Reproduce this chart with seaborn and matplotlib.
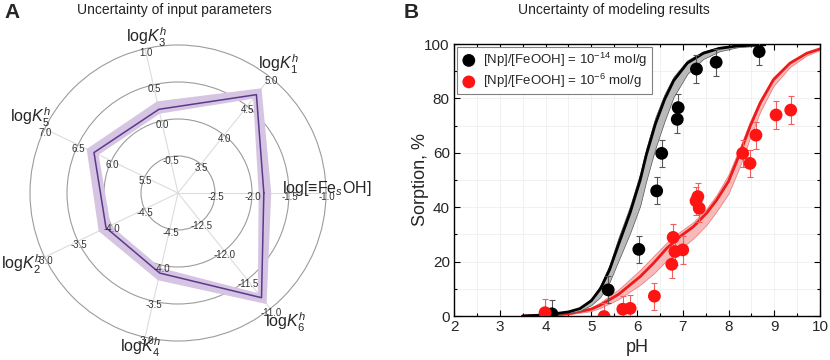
import numpy as np
import matplotlib
matplotlib.use("Agg")
import matplotlib.pyplot as plt
from matplotlib.path import Path
from matplotlib.patches import PathPatch
from matplotlib.ticker import MultipleLocator
import seaborn as sns

# ---------------- Panel A data (radar) ----------------
radar_labels = [r"log[≡Fe$_s$OH]", r"log$K_1^h$", r"log$K_3^h$", r"log$K_5^h$",
                r"log$K_2^h$", r"log$K_4^h$", r"log$K_6^h$"]
radar_ticks = [
    ["-2.5", "-2.0", "-1.5", "-1.0"],
    ["3.5", "4.0", "4.5", "5.0"],
    ["-0.5", "0.0", "0.5", "1.0"],
    ["5.5", "6.0", "6.5", "7.0"],
    ["-4.5", "-4.0", "-3.5", "-3.0"],
    ["-4.5", "-4.0", "-3.5", "-3.0"],
    ["-12.5", "-12.0", "-11.5", "-11.0"],
]
radar_best = [-1.84, 4.70, 0.16, 6.26, -3.92, -3.89, -11.19]
radar_low = [-1.91, 4.63, 0.10, 6.19, -3.99, -3.96, -11.27]
radar_high = [-1.74, 4.81, 0.27, 6.37, -3.81, -3.79, -11.08]

# ---------------- Panel B data ----------------
black_ph = [4.14, 5.37, 6.04, 6.43, 6.54, 6.88, 6.90, 7.30, 7.73, 8.67]
black_val = [0.8, 9.6, 24.5, 46.0, 59.8, 72.3, 76.6, 90.8, 93.3, 97.2]
black_err = [5, 5, 5, 5, 5, 5, 5, 5, 5, 5]

red_ph = [3.99, 5.28, 5.69, 5.85, 6.38, 6.76, 6.79, 6.83, 7.00, 7.29, 7.33, 7.36,
          8.31, 8.47, 8.60, 9.04, 9.36]
red_val = [1.2, -0.2, 2.5, 2.8, 7.3, 19.0, 28.9, 23.7, 24.3, 42.3, 43.9, 39.6,
           59.8, 56.1, 66.5, 73.9, 75.7]
red_err = [5] * 17

black_curve_ph = [3.5, 4.0, 4.5, 4.75, 5.0, 5.2, 5.4, 5.6, 5.85, 6.07, 6.2, 6.4,
                  6.6, 6.8, 7.1, 7.45, 7.8, 8.2, 8.8]
black_curve = [0, 0.4, 1.5, 2.7, 5.6, 10.0, 17.0, 26.5, 38, 50, 59, 70.5, 79.5, 86.5,
               93, 96.6, 98.4, 99.3, 99.8]
black_curve_low = [0, 0.3, 1.1, 1.9, 4.0, 7.0, 12.5, 20.5, 30.5, 40.5, 49.5, 61.5, 71.5, 80.5,
                   89, 94.5, 97.3, 98.8, 99.5]
black_curve_high = [0, 0.5, 1.8, 3.1, 6.4, 11.2, 18.8, 29, 40.5, 52.5, 61.5, 73, 81.5,
                    88, 94, 97.3, 98.9, 99.6, 99.9]

red_curve_ph = [3.5, 4.0, 4.5, 5.0, 5.2, 5.6, 6.07, 6.36, 6.65, 6.94, 7.23, 7.52,
                7.74, 8.0, 8.25, 8.47, 8.69, 8.98, 9.34, 9.71, 10.0]
red_curve = [0, 0.3, 0.8, 2.5, 4, 8, 14.5, 19.4, 24.9, 29.2, 32.8, 37.8, 42.6,
             49.5, 59.8, 69.6, 78.2, 86.8, 92.9, 96.6, 98.2]
red_curve_low = [0, 0.2, 0.6, 1.8, 3.0, 6.2, 11.5, 15.5, 20.5, 24.5, 28.5, 33.5,
                 38.5, 45, 55, 65.5, 75, 84.5, 91.5, 95.8, 97.8]
red_curve_high = [0, 0.4, 1.0, 3.2, 5.0, 9.8, 17, 22, 27, 31, 34.5, 39.5, 44.5,
                  52, 62, 71.5, 79.5, 87.8, 93.5, 97, 98.5]

legend_labels = [r"[Np]/[FeOOH] = 10$^{-14}$ mol/g", r"[Np]/[FeOOH] = 10$^{-6}$ mol/g"]

# ---------------- Style ----------------
sns.set_style("ticks")
plt.rcParams["font.family"] = ["Liberation Sans", "DejaVu Sans"]
plt.rcParams["mathtext.fontset"] = "custom"
plt.rcParams["mathtext.rm"] = "Liberation Sans"
plt.rcParams["mathtext.it"] = "Liberation Sans:italic"
plt.rcParams["mathtext.bf"] = "Liberation Sans:bold"

W, H = 830, 360
fig = plt.figure(figsize=(W / 100, H / 100), dpi=100)

# ---------------- Panel A ----------------
cx, cy, R = 178, 193, 148
axA = fig.add_axes([(cx - R) / W, (H - cy - R) / H, 2 * R / W, 2 * R / H], projection="polar")
n = len(radar_labels)
angles = [2 * np.pi * i / n for i in range(n)]


def to_r(i, v):
    base = float(radar_ticks[i][0]) - 0.5
    return (v - base) / 2.0


axA.set_ylim(0, 1)
axA.set_xticks(angles)
axA.set_xticklabels([])
axA.set_yticks([0.25, 0.5, 0.75])
axA.set_yticklabels([])
axA.xaxis.grid(True, color="#dcdcdc", lw=0.8)
axA.yaxis.grid(True, color="#9c9c9c", lw=0.8)
axA.spines["polar"].set_color("#9c9c9c")
axA.spines["polar"].set_linewidth(0.8)
axA.set_facecolor("white")

r_best = [to_r(i, v) for i, v in enumerate(radar_best)]
r_low = [to_r(i, v) for i, v in enumerate(radar_low)]
r_high = [to_r(i, v) for i, v in enumerate(radar_high)]

outer = [(a, r) for a, r in zip(angles, r_high)]
inner = [(a, r) for a, r in zip(angles, r_low)][::-1]
verts = outer + [outer[0]] + inner + [inner[0]]
codes = ([Path.MOVETO] + [Path.LINETO] * (n - 1) + [Path.CLOSEPOLY]) * 2
band = PathPatch(Path(verts, codes), transform=axA.transData, facecolor="#d5c4e2",
                 edgecolor="none", zorder=3)
axA.add_patch(band)
axA.plot(angles + [angles[0]], r_best + [r_best[0]], color="#5b3a8c", lw=1.1, zorder=4)

for i, a in enumerate(angles):
    for k, t in enumerate(radar_ticks[i]):
        axA.annotate(t, xy=(a, 0.25 * (k + 1)), xytext=(0.5, -3), textcoords="offset points",
                     ha="center", va="center", fontsize=7, color="#333333", zorder=5,
                     annotation_clip=False)

label_offsets = [None, (6, 9.5), (0.7, 8), (-10, 8.5), (-17, -5), (-3, -7.5), (11, -9.5)]
for i, a in enumerate(angles):
    if i == 0:
        axA.annotate(radar_labels[i], xy=(a, 0.70), xytext=(0, 3), textcoords="offset points",
                     ha="left", va="center", fontsize=11.5, zorder=6, annotation_clip=False)
    else:
        axA.annotate(radar_labels[i], xy=(a, 1.0), xytext=label_offsets[i],
                     textcoords="offset points", ha="center", va="center", fontsize=11.5,
                     zorder=6, annotation_clip=False)

# ---------------- Panel B ----------------
axB = fig.add_axes([454 / W, 44 / H, 366 / W, 272 / H])
axB.set_axisbelow(True)
axB.grid(which="both", color="#efefef", lw=0.6)

axB.fill_between(red_curve_ph, red_curve_low, red_curve_high, facecolor="#f7b9b9",
                 edgecolor="#f07070", lw=0.5, zorder=1)
sns.lineplot(x=red_curve_ph, y=red_curve, color="#ee1b1b", lw=2, ax=axB, zorder=2,
             estimator=None)
axB.fill_between(black_curve_ph, black_curve_low, black_curve_high, facecolor="#b9b9b9",
                 edgecolor="#555555", lw=0.5, zorder=2.2)
sns.lineplot(x=black_curve_ph, y=black_curve, color="black", lw=2, ax=axB, zorder=2.5,
             estimator=None)

axB.errorbar(black_ph, black_val, yerr=black_err, fmt="none", ecolor="#555555",
             elinewidth=0.8, capsize=2.5, capthick=0.8, zorder=3)
sns.scatterplot(x=black_ph, y=black_val, color="black", s=85, edgecolor="none",
                ax=axB, zorder=4, label=legend_labels[0])
axB.errorbar(red_ph, red_val, yerr=red_err, fmt="none", ecolor="#f06060",
             elinewidth=0.8, capsize=2.5, capthick=0.8, zorder=4.5)
sns.scatterplot(x=red_ph, y=red_val, color="#ff1414", s=85, edgecolor="none",
                ax=axB, zorder=5, label=legend_labels[1])

axB.set_xlim(2, 10)
axB.set_ylim(0, 100)
axB.xaxis.set_major_locator(MultipleLocator(1))
axB.xaxis.set_minor_locator(MultipleLocator(0.5))
axB.yaxis.set_major_locator(MultipleLocator(20))
axB.yaxis.set_minor_locator(MultipleLocator(10))
axB.tick_params(which="both", direction="in", top=True, right=True, width=0.8, color="black")
axB.tick_params(which="major", length=4, labelsize=11, pad=3)
axB.tick_params(which="minor", length=2.5)
for s in axB.spines.values():
    s.set_color("black")
    s.set_linewidth(1.0)

axB.set_xlabel("pH", fontsize=13)
axB.xaxis.set_label_coords(0.5, -0.085)
axB.set_ylabel("Sorption, %", fontsize=13)
axB.yaxis.set_label_coords(-0.068, 0.5)

leg = axB.legend(loc="upper left", bbox_to_anchor=(0.008, 0.99), borderaxespad=0,
                 frameon=True, fancybox=False, edgecolor="#808080", framealpha=1,
                 fontsize=9.5, handletextpad=0.5, borderpad=0.3, labelspacing=0.25,
                 handlelength=1.2)
leg.get_frame().set_linewidth(0.8)

# ---------------- Titles ----------------
fig.text(174.5 / W, 1 - 10 / H, "Uncertainty of input parameters", ha="center", va="center",
         fontsize=10, color="#222222")
fig.text(613.5 / W, 1 - 10 / H, "Uncertainty of modeling results", ha="center", va="center",
         fontsize=10, color="#222222")
fig.text(12 / W, 1 - 12 / H, "A", ha="center", va="center", fontsize=15, fontweight="bold")
fig.text(411 / W, 1 - 12 / H, "B", ha="center", va="center", fontsize=15, fontweight="bold")

fig.savefig("out.png", dpi=100)
